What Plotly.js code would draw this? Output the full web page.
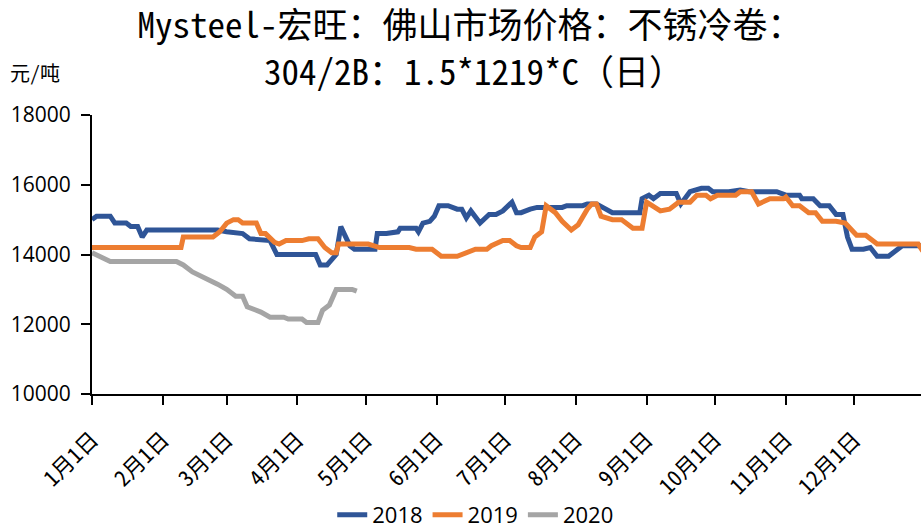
<!DOCTYPE html>
<html>
<head>
<meta charset="utf-8">
<script src="https://cdn.plot.ly/plotly-3.0.1.min.js"></script>
<style>
  html, body { margin: 0; padding: 0; background: #fff; }
  #chart { width: 921px; height: 530px; }
</style>
</head>
<body>
<div id="chart"></div>
<script>
// ---- Data (month-day, price in 元/吨) ----
const dates2018 = ['01-01','01-03','01-09','01-11','01-16','01-18','01-21','01-23','01-25','02-25','03-01','03-08','03-11','03-18','03-20','03-23','04-09','04-10','04-11','04-14','04-18','04-20','04-24','04-26','05-05','05-06','05-10','05-15','05-16','05-23','05-24','05-26','05-29','05-31','06-02','06-06','06-10','06-12','06-14','06-16','06-20','06-24','06-27','06-30','07-04','07-06','07-08','07-12','07-15','07-26','07-28','08-04','08-06','08-10','08-14','08-17','08-29','08-30','09-02','09-04','09-07','09-14','09-16','09-20','09-25','09-28','09-30','10-07','10-12','10-16','10-28','11-01','11-07','11-08','11-13','11-16','11-20','11-23','11-26','11-27','11-28','11-30','12-05','12-08','12-11','12-16','12-20','12-22','12-31'];
const values2018 = [15000,15100,15100,14900,14900,14800,14800,14500,14700,14700,14650,14600,14450,14400,14400,14000,14000,13850,13700,13700,14000,14800,14250,14150,14150,14600,14600,14650,14750,14750,14650,14900,14950,15100,15400,15400,15300,15300,15050,15250,14900,15150,15150,15250,15500,15200,15200,15300,15350,15350,15400,15400,15450,15450,15300,15200,15200,15600,15700,15600,15750,15750,15450,15800,15900,15900,15800,15800,15850,15800,15800,15700,15700,15600,15600,15400,15400,15150,15150,14850,14500,14150,14150,14200,13950,13950,14150,14250,14250];

const dates2019 = ['01-01','02-09','02-10','02-23','02-26','03-01','03-04','03-06','03-08','03-14','03-16','03-18','03-22','03-24','03-27','04-03','04-06','04-10','04-13','04-16','04-18','04-19','05-02','05-07','05-20','05-23','05-30','06-03','06-10','06-14','06-18','06-23','06-25','06-30','07-03','07-06','07-08','07-12','07-14','07-17','07-19','07-23','07-26','07-30','08-02','08-06','08-08','08-10','08-12','08-17','08-21','08-26','08-30','09-01','09-07','09-11','09-15','09-20','09-23','09-27','09-29','10-02','10-10','10-12','10-17','10-20','10-25','10-31','11-01','11-04','11-07','11-11','11-14','11-17','11-23','11-27','12-02','12-06','12-11','12-29','12-31'];
const values2019 = [14200,14200,14500,14500,14650,14900,15000,15000,14900,14900,14600,14600,14350,14300,14400,14400,14450,14450,14200,14050,14050,14300,14300,14200,14200,14150,14150,13950,13950,14050,14150,14150,14250,14400,14400,14250,14200,14200,14500,14650,15400,15200,14950,14700,14850,15300,15450,15450,15100,15000,15000,14750,14750,15500,15250,15300,15500,15500,15700,15700,15600,15700,15700,15800,15800,15450,15600,15600,15650,15400,15400,15200,15200,14950,14950,14900,14550,14550,14300,14300,14100];

const dates2020 = ['01-01','01-09','02-07','02-10','02-14','02-19','02-25','03-01','03-05','03-08','03-10','03-16','03-20','03-26','03-28','04-03','04-05','04-10','04-12','04-15','04-17','04-18','04-25','04-27'];
const values2020 = [14050,13800,13800,13700,13500,13350,13150,13000,12800,12800,12500,12350,12200,12200,12150,12150,12050,12050,12400,12550,12850,13000,13000,12950];

const seriesNames = ['2018','2019','2020'];
const monthTickDates = ['01-01','02-01','03-01','04-01','05-01','06-01','07-01','08-01','09-01','10-01','11-01','12-01'];
const monthTickLabels = ['1月1日','2月1日','3月1日','4月1日','5月1日','6月1日','7月1日','8月1日','9月1日','10月1日','11月1日','12月1日'];
const yTickValues = [10000,12000,14000,16000,18000];

const titleLine1 = 'Mysteel-宏旺：佛山市场价格：不锈冷卷：';
const titleLine2 = '304/2B：1.5*1219*C（日）';
const unitLabel = '元/吨';

// ---- Build chart (all years overlaid on a common calendar year) ----
const BASE_YEAR = '2019-';
const toX = arr => arr.map(d => BASE_YEAR + d);
const colors = ['#2F5597', '#ED7D31', '#A5A5A5'];
const allDates = [dates2018, dates2019, dates2020];
const allValues = [values2018, values2019, values2020];

const traces = seriesNames.map((name, i) => ({
  type: 'scatter',
  mode: 'lines',
  name: name,
  x: toX(allDates[i]),
  y: allValues[i],
  line: { color: colors[i], width: 5, shape: 'linear' },
  hoverinfo: 'x+y+name'
}));

const cjkMono = '"Noto Sans Mono CJK SC", "Noto Sans CJK SC", monospace';
const latin = '"Open Sans", "Liberation Sans", sans-serif';

const layout = {
  width: 921,
  height: 530,
  margin: { l: 92, r: 0, t: 115, b: 136, pad: 0 },
  paper_bgcolor: '#ffffff',
  plot_bgcolor: '#ffffff',
  showlegend: true,
  title: {
    text: titleLine1,
    font: { family: cjkMono, size: 35, color: '#000000' },
    xref: 'container', x: 470 / 921, xanchor: 'center',
    yref: 'container', y: 1 - 26 / 530, yanchor: 'middle'
  },
  annotations: [
    {
      text: titleLine2, showarrow: false,
      xref: 'paper', yref: 'paper',
      x: (474 - 92) / 829, y: 1 + (115 - 70) / 279,
      xanchor: 'center', yanchor: 'middle',
      font: { family: cjkMono, size: 35, color: '#000000' }
    },
    {
      text: unitLabel, showarrow: false,
      xref: 'paper', yref: 'paper',
      x: (8 - 92) / 829, y: 1 + (115 - 72) / 279,
      xanchor: 'left', yanchor: 'middle',
      font: { family: cjkMono, size: 20, color: '#000000' }
    }
  ],
  xaxis: {
    type: 'date',
    range: [BASE_YEAR + '01-01', BASE_YEAR + '12-30 05:00'],
    tickmode: 'array',
    tickvals: toX(monthTickDates),
    ticktext: monthTickLabels,
    tickangle: -45,
    ticks: 'outside', ticklen: 9, tickwidth: 2, tickcolor: '#000000',
    showline: true, linecolor: '#000000', linewidth: 2,
    showgrid: false, zeroline: false,
    ticklabelstandoff: 13,
    tickfont: { family: cjkMono, size: 22, color: '#000000' },
    fixedrange: true
  },
  yaxis: {
    range: [10000, 18000],
    tickmode: 'array',
    tickvals: yTickValues,
    ticktext: yTickValues.map(String),
    ticks: 'outside', ticklen: 9, tickwidth: 2, tickcolor: '#000000',
    showline: true, linecolor: '#000000', linewidth: 2,
    showgrid: false, zeroline: false,
    ticklabelstandoff: 6,
    tickfont: { family: latin, size: 21, color: '#000000' },
    fixedrange: true
  },
  legend: {
    orientation: 'h',
    xref: 'container', yref: 'container',
    x: 0.516, xanchor: 'center',
    y: 15 / 530, yanchor: 'middle',
    font: { family: latin, size: 22, color: '#000000' },
    itemwidth: 30,
    tracegroupgap: 0,
    bgcolor: 'rgba(0,0,0,0)'
  }
};

Plotly.newPlot('chart', traces, layout, { displayModeBar: false, staticPlot: true });
</script>
</body>
</html>
